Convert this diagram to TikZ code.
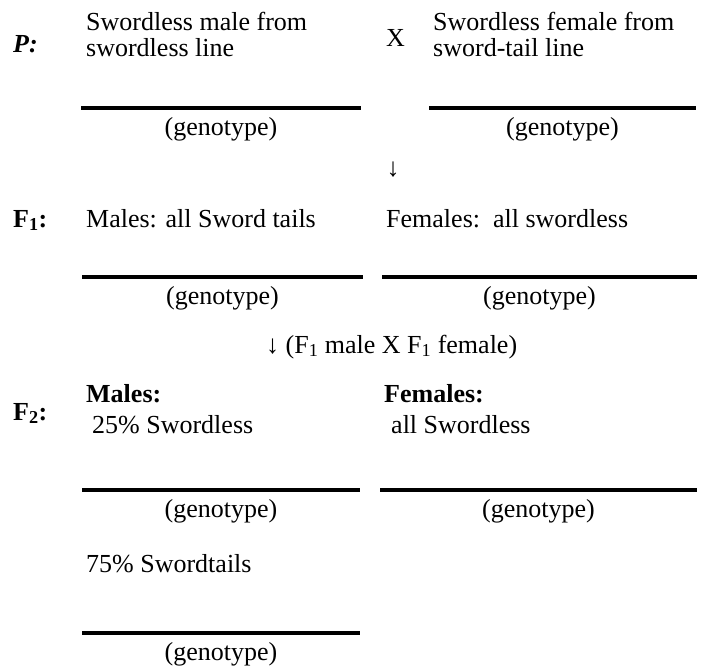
\documentclass[tikz,border=0pt]{standalone}
\usepackage{fontspec}
\setmainfont{Liberation Serif}
\usetikzlibrary{positioning, calc}

\begin{document}
\begin{tikzpicture}[x=1pt, y=-1pt,
                every node/.style={inner sep=0pt, anchor=base west, font=\fontsize{26}{30}\selectfont},
                lbl/.style={font=\fontsize{26}{30}\selectfont\bfseries},
                gen/.style={anchor=base},
                blank/.style={line width=4pt}]

    \useasboundingbox (0,0) rectangle (703,667); % same size as the handout scan

    % parents
    \node [lbl] (P)   at (13,52)  {\textit{P:}};
    \node       (pm1) at (86,30)  {Swordless male from};
    \node       (pm2) at (86,56)  {swordless line};
    \node       (X)   at (386,46) {X};
    \node       (pf1) at (433,30) {Swordless female from};
    \node       (pf2) at (433,56) {sword-tail line};
    \draw [blank] (81,108) coordinate (pa) -- (361,108) coordinate (pb);
    \draw [blank] (429,108) coordinate (pc) -- (696,108) coordinate (pd);
    \node [gen] (gpm) at ($(pa)!.5!(pb)+(0,27)$) {(genotype)};
    \node [gen] (gpf) at ($(pc)!.5!(pd)+(0,27)$) {(genotype)};

    \node [gen] (a1) at (393,176) {↓};

    % first generation
    \node [lbl] (F1)  at (13,227) {F\textsubscript{1}:};
    \node       (f1m) at (86,227) {Males: all Sword tails};
    \node       (f1f) at (386,227) {Females:\ \ all swordless};
    \draw [blank] (82,277) coordinate (fa) -- (363,277) coordinate (fb);
    \draw [blank] (382,277) coordinate (fc) -- (697,277) coordinate (fd);
    \node [gen] (gfm) at ($(fa)!.5!(fb)+(0,27)$) {(genotype)};
    \node [gen] (gff) at ($(fc)!.5!(fd)+(0,27)$) {(genotype)};

    \node (a2) at (266,353) {↓ (F\textsubscript{1} male X F\textsubscript{1} female)};

    % second generation
    \node [lbl] (F2)  at (13,420) {F\textsubscript{2}:};
    \node [lbl] (mm)  at (86,402) {Males:};
    \node       (m25) at (92,433) {25\% Swordless};
    \node [lbl] (ff)  at (384,402) {Females:};
    \node       (fal) at (391,433) {all Swordless};
    \draw [blank] (82,490) coordinate (sa) -- (360,490) coordinate (sb);
    \draw [blank] (380,490) coordinate (sc) -- (697,490) coordinate (sd);
    \node [gen] (gsm) at ($(sa)!.5!(sb)+(0,27)$) {(genotype)};
    \node [gen] (gsf) at ($(sc)!.5!(sd)+(0,27)$) {(genotype)};

    \node       (m75) at (86,572) {75\% Swordtails};
    \draw [blank] (82,633) coordinate (ta) -- (360,633) coordinate (tb);
    \node [gen] (gst) at ($(ta)!.5!(tb)+(0,27)$) {(genotype)};

\end{tikzpicture}
\end{document}
